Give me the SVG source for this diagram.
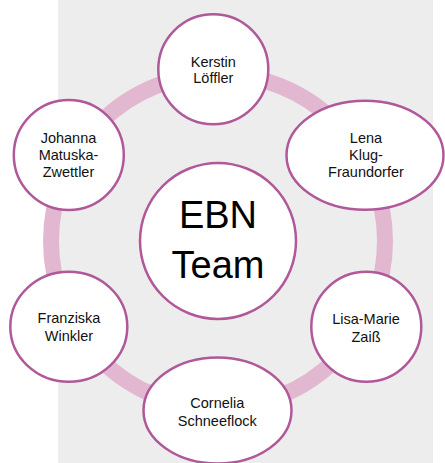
<svg xmlns="http://www.w3.org/2000/svg" width="445" height="463" viewBox="0 0 445 463">
<style>
.n{fill:#fff;stroke:#B0589A;stroke-width:2.5}
.t{font-family:"Liberation Sans",Arial,sans-serif;font-size:14.5px;fill:#111;text-anchor:middle}
.big{font-family:"Liberation Sans",Arial,sans-serif;font-size:38px;fill:#000;text-anchor:middle}
</style>
<rect x="0" y="0" width="445" height="463" fill="#fff"/>
<rect x="58" y="0" width="375" height="463" fill="#EDEDED"/>
<g id="connectors">
<circle cx="218" cy="241" r="167" fill="none" stroke="#E2B8D1" stroke-width="16"/>
</g>
<g id="center">
<circle class="n" cx="218" cy="241" r="78"/>
<text class="big" x="218" y="228">EBN</text>
<text class="big" x="218" y="278">Team</text>
</g>
<g id="kerstin">
<circle class="n" cx="213.3" cy="69.3" r="55"/>
<text class="t" x="213.3" y="66.5">Kerstin</text>
<text class="t" x="213.3" y="83.3">Löffler</text>
</g>
<g id="lena">
<ellipse class="n" cx="365" cy="155.3" rx="78.5" ry="54.5"/>
<text class="t" x="366" y="143.3">Lena</text>
<text class="t" x="366" y="160.3">Klug-</text>
<text class="t" x="366" y="177.3">Fraundorfer</text>
</g>
<g id="johanna">
<circle class="n" cx="68.8" cy="155" r="55"/>
<text class="t" x="68.5" y="143.3">Johanna</text>
<text class="t" x="68.5" y="160">Matuska-</text>
<text class="t" x="68.5" y="176.7">Zwettler</text>
</g>
<g id="franziska">
<ellipse class="n" cx="68.8" cy="326.7" rx="58.5" ry="55"/>
<text class="t" x="69" y="323.3">Franziska</text>
<text class="t" x="69" y="341">Winkler</text>
</g>
<g id="lisa">
<circle class="n" cx="366.3" cy="326.7" r="55"/>
<text class="t" x="366" y="324.3">Lisa-Marie</text>
<text class="t" x="366" y="341.7">Zaiß</text>
</g>
<g id="cornelia">
<ellipse class="n" cx="217.5" cy="410.5" rx="74" ry="53"/>
<text class="t" x="217.3" y="408.3">Cornelia</text>
<text class="t" x="217.3" y="426">Schneeflock</text>
</g>
</svg>
